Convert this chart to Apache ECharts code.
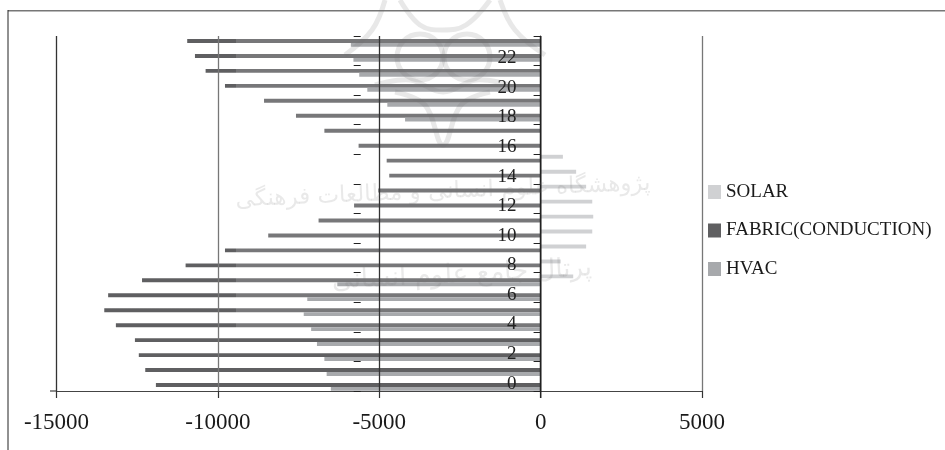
<!DOCTYPE html>
<html><head><meta charset="utf-8">
<style>html,body{margin:0;padding:0;background:#fff}#c{width:945px;height:450px}</style>
<script src="https://cdn.jsdelivr.net/npm/echarts@6/dist/echarts.min.js"></script>
</head><body><div id="c"></div>
<script>
const hours = ['0','1','2','3','4','5','6','7','8','9','10','11','12','13','14','15','16','17','18','19','20','21','22','23'];
const hvac = [-6500,-6630,-6700,-6930,-7110,-7340,-7230,-6300,0,0,0,0,0,0,0,0,0,0,-4200,-4750,-5370,-5620,-5800,-5880];
const fabric = [-11920,-12250,-12450,-12570,-13160,-13520,-13400,-12350,-11000,-9780,-8440,-6880,-5780,-5030,-4690,-4770,-5640,-6700,-7580,-8570,-9780,-10380,-10710,-10950];
const solar = [0,0,0,0,0,0,0,1010,620,1410,1600,1630,1600,1410,1100,690,0,0,0,0,0,0,0,0];

const fontSerif = '"Liberation Serif","Times New Roman",serif';
const twoTone = {type:'linear',x:0,y:0,x2:945,y2:0,global:true,colorStops:[
  {offset:0,color:'#5f5f61'},{offset:236/945,color:'#5f5f61'},{offset:236/945,color:'#777779'},{offset:1,color:'#777779'}]};
const chart = echarts.init(document.getElementById('c'),null,{renderer:'canvas'});
const barS = (name,data,color)=>({name,type:'bar',xAxisIndex:1,yAxisIndex:2,data,barWidth:3.9,barGap:'0%',itemStyle:{color},animation:false,silent:true});
const fabricData = fabric.map((v,i)=> i<4 ? {value:v,itemStyle:{color:'#5f5f61'}} : {value:v,itemStyle:{color:twoTone}});
const G = {left:56.5,width:645.5};
const wm = 'rgba(110,110,110,0.16)';
const wmLine = pts => ({type:'polyline',silent:true,z:10,shape:{points:pts,smooth:0.4},style:{fill:'none',stroke:wm,lineWidth:5}});
chart.setOption({
  animation:false,
  backgroundColor:'#fff',
  legend:{orient:'vertical',left:708,top:182.5,padding:0,itemWidth:13,itemHeight:14,itemGap:19.5,
    data:['SOLAR','FABRIC(CONDUCTION)','HVAC'],icon:'rect',
    textStyle:{fontFamily:fontSerif,fontSize:19,color:'#1a1a1a'}},
  grid:[
    {left:G.left,width:G.width,top:36,height:355},
    {left:G.left,width:G.width,top:33.5,height:359}
  ],
  xAxis:[
    {type:'value',gridIndex:0,min:-15000,max:5000,interval:5000,z:5,
     axisLine:{show:true,onZero:false,lineStyle:{color:'#444',width:1.2}},
     axisTick:{show:true,length:7,lineStyle:{color:'#333',width:1.2}},
     axisLabel:{fontFamily:fontSerif,fontSize:23,color:'#1a1a1a',margin:20,formatter:v=>String(v)},
     splitLine:{show:true,lineStyle:{color:['#333','#777','#333','#333','#777'],width:1.3}}},
    {type:'value',gridIndex:1,min:-15000,max:5000,interval:5000,show:false,splitLine:{show:false}}
  ],
  yAxis:[
    {type:'category',gridIndex:0,data:hours,position:'left',offset:-484.1,z:5,
     axisLine:{show:true,onZero:false,lineStyle:{color:'#222',width:1.2}},
     axisTick:{show:true,length:7,lineStyle:{color:'#222',width:1}},
     axisLabel:{interval:1,fontFamily:fontSerif,fontSize:19,color:'#222',margin:24,padding:[0,0,11,0]},
     splitLine:{show:false}},
    {type:'category',gridIndex:0,data:hours,position:'left',offset:-304.2,z:5,
     axisLine:{show:false,onZero:false},
     axisTick:{show:true,length:7,lineStyle:{color:'#222',width:1}},
     axisLabel:{show:false},splitLine:{show:false}},
    {type:'category',gridIndex:1,data:hours,show:false}
  ],
  series:[
    barS('SOLAR',solar,'#d0d1d3'),
    barS('FABRIC(CONDUCTION)',fabricData,'#5f5f61'),
    barS('HVAC',hvac,'#a7a9ac')
  ],
  graphic:[
    {type:'line',silent:true,z:3,shape:{x1:8,y1:10.7,x2:945,y2:10.7},style:{stroke:'#777',lineWidth:1.6}},
    {type:'line',silent:true,z:3,shape:{x1:8,y1:10,x2:8,y2:450},style:{stroke:'#222',lineWidth:1}},
    {type:'line',silent:true,z:3,shape:{x1:50,y1:391,x2:57,y2:391},style:{stroke:'#444',lineWidth:1.2}},
    {type:'line',silent:true,z:6,shape:{x1:540.8,y1:36,x2:540.8,y2:398},style:{stroke:'#222',lineWidth:1.2}},
    {type:'circle',silent:true,z:10,shape:{cx:420,cy:57,r:23},style:{fill:'none',stroke:wm,lineWidth:5}},
    {type:'circle',silent:true,z:10,shape:{cx:467,cy:57,r:23},style:{fill:'none',stroke:wm,lineWidth:5}},
    wmLine([[345,55],[372,30],[385,0]]),
    wmLine([[545,55],[515,30],[500,0]]),
    wmLine([[375,85],[410,80],[443,92],[476,80],[510,85]]),
    wmLine([[395,92],[425,105],[443,145],[461,105],[490,92]]),
    wmLine([[400,0],[420,25],[443,30],[466,25],[490,0]]),
    {type:'text',silent:true,z:10,rotation:0.04,x:443,y:192,style:{text:'پژوهشگاه علوم انسانی و مطالعات فرهنگی',font:'23px "DejaVu Sans"',fill:'rgba(120,120,120,0.16)',align:'center',verticalAlign:'middle'}},
    {type:'text',silent:true,z:10,rotation:0.05,x:462,y:275,style:{text:'پرتال جامع علوم انسانی',font:'26px "DejaVu Sans"',fill:'rgba(120,120,120,0.16)',align:'center',verticalAlign:'middle'}}
  ]
});
</script></body></html>
